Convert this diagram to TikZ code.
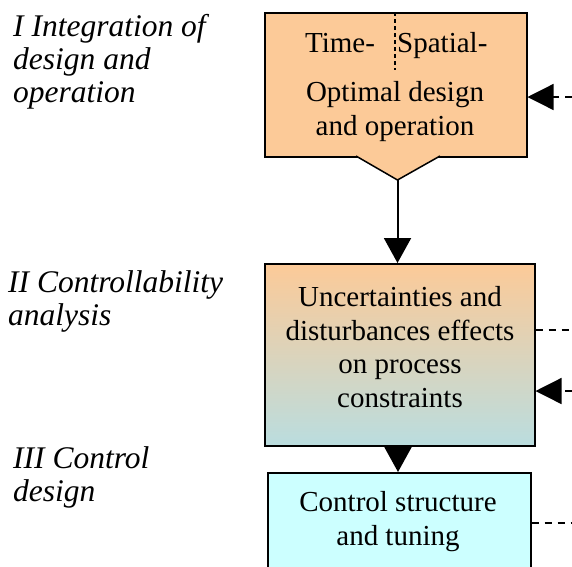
\documentclass[tikz,border=0pt]{standalone}
\usepackage{fontspec}
\setmainfont{Liberation Serif}
\usetikzlibrary{arrows.meta,calc}
\definecolor{peach}{RGB}{252,202,152}
\definecolor{tealish}{RGB}{186,221,223}
\definecolor{lcyan}{RGB}{204,255,255}
\begin{document}
\begin{tikzpicture}[x=1pt,y=-1pt,
  box/.style={draw=black,line width=1.5pt,rectangle,inner sep=0pt,anchor=north west},
  txt/.style={inner sep=0pt,font=\fontsize{29}{33.5}\selectfont,align=center},
  lbl/.style={inner sep=0pt,font=\fontsize{31.5}{33}\selectfont\itshape,align=left,anchor=base west},
  flow/.style={line width=2pt,-{Triangle[length=25pt,width=27pt]}},
  fb/.style={line width=1.3pt,dash pattern=on 7pt off 6pt},
  fbin/.style={fb,-{Triangle[length=26pt,width=26pt]}}]
\useasboundingbox (0,0) rectangle (572,566);
\clip (0,0) rectangle (572,566);
% left labels (anchor = baseline of last line)
\node[lbl] (l1) at (13,102) {I Integration of\\design and\\operation};
\node[lbl] (l2) at (8,325) {II Controllability\\analysis};
\node[lbl] (l3) at (13,501) {III Control\\design};
% box 1
\node[box,fill=peach,minimum width=262pt,minimum height=144pt] (b1) at (264,12) {};
\draw[line width=1.5pt,fill=peach] (356,156) -- (397.5,180) -- (440,156);
\coordinate (apex) at (397.5,180);
\draw[line width=1.2pt,dash pattern=on 4pt off 3pt] (395,12) -- (395,70);
\node[txt,anchor=base] (t1) at (340,52) {Time-};
\node[txt,anchor=base west] (t2) at (397,52) {Spatial-};
\node[txt,anchor=base] (t3) at (395,135) {Optimal design\\and operation};
% box 2
\node[box,top color=peach,bottom color=tealish,draw=black,minimum width=270pt,minimum height=182pt] (b2) at (264,263) {};
\node[txt,anchor=base] (t4) at (400,407) {Uncertainties and\\disturbances effects\\on process\\constraints};
% box 3
\node[box,fill=lcyan,minimum width=263pt,minimum height=120pt] (b3) at (267,472) {};
\node[txt,anchor=base] (t5) at (398,545) {Control structure\\and tuning};
% flow arrows
\draw[flow] (apex) -- (apex |- b2.north);
\draw[flow] (398,445) -- (398,472);
% right feedback connectors
\coordinate (r1) at (572,97);
\coordinate (r2) at (572,330);
\coordinate (r3) at (572,391);
\coordinate (r4) at (572,523);
\draw[fbin] (r1) -- (r1 -| b1.east);
\draw[fb] (r2 -| b2.east) -- (r2);
\draw[fbin] (r3) -- (r3 -| b2.east);
\draw[fb] (r4 -| b3.east) -- (r4);
\end{tikzpicture}
\end{document}
